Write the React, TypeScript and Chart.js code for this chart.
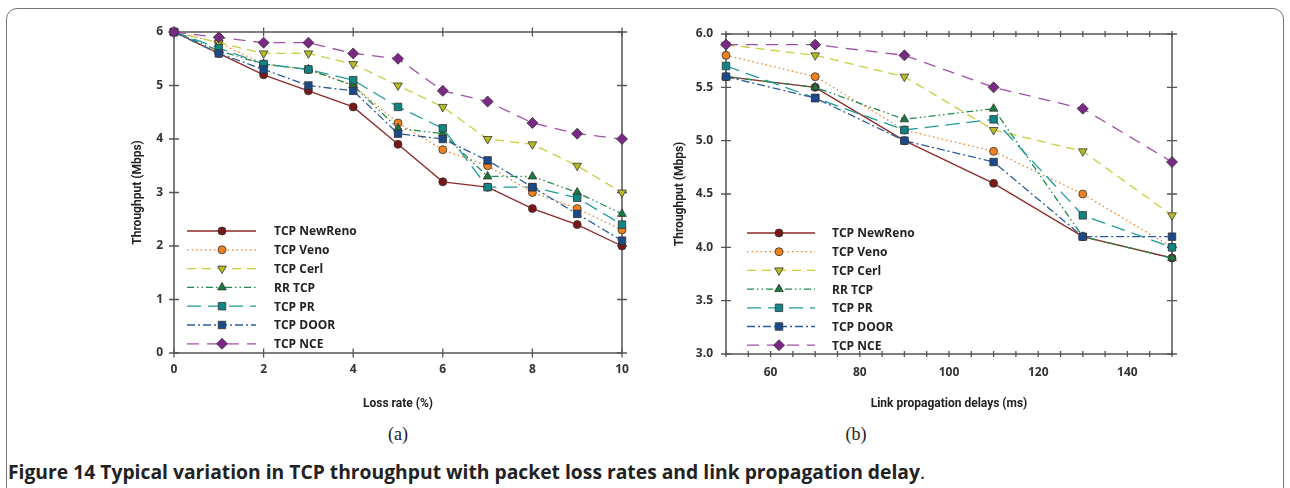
import React, { useEffect, useRef } from 'react';
import { Chart, registerables } from 'chart.js';
import { drawPoint } from 'chart.js/helpers';

Chart.register(...registerables);

// ---------- data ----------
const seriesNames = ['TCP NewReno', 'TCP Veno', 'TCP Cerl', 'RR TCP', 'TCP PR', 'TCP DOOR', 'TCP NCE'];

const lossRates = [0, 1, 2, 3, 4, 5, 6, 7, 8, 9, 10];
const newRenoLoss = [6, 5.6, 5.2, 4.9, 4.6, 3.9, 3.2, 3.1, 2.7, 2.4, 2.0];
const venoLoss = [6, 5.8, 5.4, 5.3, 5.0, 4.3, 3.8, 3.5, 3.0, 2.7, 2.3];
const cerlLoss = [6, 5.8, 5.6, 5.6, 5.4, 5.0, 4.6, 4.0, 3.9, 3.5, 3.0];
const rrLoss = [6, 5.65, 5.4, 5.3, 5.0, 4.2, 4.1, 3.3, 3.3, 3.0, 2.6];
const prLoss = [6, 5.7, 5.4, 5.3, 5.1, 4.6, 4.2, 3.1, 3.1, 2.9, 2.4];
const doorLoss = [6, 5.6, 5.3, 5.0, 4.9, 4.1, 4.0, 3.6, 3.1, 2.6, 2.1];
const nceLoss = [6, 5.9, 5.8, 5.8, 5.6, 5.5, 4.9, 4.7, 4.3, 4.1, 4.0];

const delays = [50, 70, 90, 110, 130, 150];
const newRenoDelay = [5.6, 5.5, 5.0, 4.6, 4.1, 3.9];
const venoDelay = [5.8, 5.6, 5.1, 4.9, 4.5, 4.0];
const cerlDelay = [5.9, 5.8, 5.6, 5.1, 4.9, 4.3];
const rrDelay = [5.6, 5.5, 5.2, 5.3, 4.1, 3.9];
const prDelay = [5.7, 5.4, 5.1, 5.2, 4.3, 4.0];
const doorDelay = [5.6, 5.4, 5.0, 4.8, 4.1, 4.1];
const nceDelay = [5.9, 5.9, 5.8, 5.5, 5.3, 4.8];

const lossYTicks = [0, 1, 2, 3, 4, 5, 6];
const delayYTicks = [3.0, 3.5, 4.0, 4.5, 5.0, 5.5, 6.0];

// ---------- styles ----------
const seriesStyles = [
  { line: '#8e2a2a', fill: '#7a1616', dash: [], pointStyle: 'circle', r: 4, rot: 0 },
  { line: '#f5821f', fill: '#f0801e', dash: [1.5, 3], pointStyle: 'circle', r: 4, rot: 0 },
  { line: '#c9cc3c', fill: '#b8bb22', dash: [9, 6], pointStyle: 'triangle', r: 5, rot: 180 },
  { line: '#1e8a4c', fill: '#1a7a3c', dash: [7, 3, 1.5, 3, 1.5, 3], pointStyle: 'triangle', r: 5, rot: 0 },
  { line: '#1f9a9a', fill: '#108585', dash: [14, 7], pointStyle: 'rect', r: 5.3, rot: 0 },
  { line: '#2c5c9c', fill: '#1b4a8a', dash: [8, 3, 2, 3], pointStyle: 'rect', r: 5.3, rot: 0 },
  { line: '#a04fa8', fill: '#7a2a85', dash: [12, 8], pointStyle: 'rectRot', r: 5.5, rot: 0 },
];

const TICK_FONT = { family: '"Open Sans", sans-serif', size: 12, weight: 'bold' as const };
const TITLE_FONT = { family: 'Roboto, sans-serif', size: 12, weight: 'bold' as const };

function buildDatasets(xs: number[], series: number[][]) {
  return series.map((vals, i) => {
    const s = seriesStyles[i];
    return {
      label: seriesNames[i],
      data: vals.map((v, j) => ({ x: xs[j], y: v })),
      borderColor: s.line,
      borderWidth: 1.3,
      borderDash: s.dash,
      backgroundColor: s.fill,
      pointBackgroundColor: s.fill,
      pointBorderColor: '#333',
      pointBorderWidth: 0.8,
      pointStyle: s.pointStyle,
      pointRadius: s.r,
      pointRotation: s.rot,
      tension: 0,
      clip: false,
      order: 6 - i,
    };
  });
}

const framePlugin = {
  id: 'frame',
  beforeDatasetsDraw(chart: any, _args: any, opts: any) {
    const { ctx, chartArea: a, scales } = chart;
    const x = scales.x;
    const y = scales.y;
    ctx.save();
    ctx.strokeStyle = '#555';
    ctx.lineWidth = 1.5;
    ctx.strokeRect(a.left, a.top, a.right - a.left, a.bottom - a.top);
    ctx.lineWidth = 1.3;
    const xl = opts.xTickLen;
    const yl = opts.yTickLen;
    const xVals: number[] = [];
    for (let v = x.min; v <= x.max + 1e-9; v += opts.xStep) xVals.push(v);
    const yVals: number[] = [];
    for (let v = y.min; v <= y.max + 1e-9; v += opts.yStep) yVals.push(v);
    ctx.beginPath();
    xVals.forEach((v) => {
      const px = x.getPixelForValue(v);
      ctx.moveTo(px, a.bottom - xl);
      ctx.lineTo(px, a.bottom + xl);
      ctx.moveTo(px, a.top - xl);
      ctx.lineTo(px, a.top + xl);
    });
    yVals.forEach((v) => {
      const py = y.getPixelForValue(v);
      ctx.moveTo(a.left - yl, py);
      ctx.lineTo(a.left + yl, py);
      ctx.moveTo(a.right - yl, py);
      ctx.lineTo(a.right + yl, py);
    });
    ctx.stroke();
    ctx.restore();
  },
};

const legendPlugin = {
  id: 'inLegend',
  afterDatasetsDraw(chart: any, _args: any, opts: any) {
    const { ctx, chartArea: a } = chart;
    ctx.save();
    chart.data.datasets.forEach((ds: any, i: number) => {
      const s = seriesStyles[i];
      const yy = a.top + opts.y0 + i * opts.dy;
      ctx.beginPath();
      ctx.setLineDash(s.dash);
      ctx.strokeStyle = s.line;
      ctx.lineWidth = 1.3;
      ctx.moveTo(a.left + opts.x0, yy);
      ctx.lineTo(a.left + opts.x1, yy);
      ctx.stroke();
      ctx.setLineDash([]);
      ctx.fillStyle = s.fill;
      ctx.strokeStyle = '#333';
      ctx.lineWidth = 0.8;
      drawPoint(ctx, { pointStyle: s.pointStyle, rotation: s.rot, radius: s.r, borderWidth: 0.8 } as any, a.left + opts.mx, yy);
      ctx.fillStyle = '#222';
      ctx.font = 'bold 12px "Open Sans", sans-serif';
      ctx.textAlign = 'left';
      ctx.textBaseline = 'middle';
      ctx.fillText(ds.label, a.left + opts.tx, yy + 1);
    });
    ctx.restore();
  },
};

interface PanelCfg {
  xs: number[];
  series: number[][];
  xMin: number;
  xMax: number;
  xStep: number;
  xMinorStep: number;
  xLabel: (v: number) => string;
  yMin: number;
  yMax: number;
  yStep: number;
  yLabel: (v: number) => string;
  xTitle: string;
  yTitle: string;
  leftWidth: number;
  bottomHeight: number;
  padTop: number;
  padRight: number;
  yTitlePad: number;
  yTickPad: number;
  xTickPad: number;
  xTickLen: number;
  legend: any;
}

function Panel({ cfg, left, width, height }: { cfg: PanelCfg; left: number; width: number; height: number }) {
  const ref = useRef<HTMLCanvasElement>(null);
  useEffect(() => {
    if (!ref.current) return;
    const chart = new Chart(ref.current, {
      type: 'line',
      data: { datasets: buildDatasets(cfg.xs, cfg.series) as any },
      options: {
        animation: false,
        responsive: false,
        devicePixelRatio: 1,
        layout: { padding: { top: cfg.padTop, right: cfg.padRight, left: 0, bottom: 0 } },
        plugins: {
          legend: { display: false },
          tooltip: { enabled: false },
          frame: { xStep: cfg.xMinorStep, yStep: cfg.yStep, xTickLen: cfg.xTickLen, yTickLen: 5 },
          inLegend: cfg.legend,
        } as any,
        scales: {
          x: {
            type: 'linear',
            min: cfg.xMin,
            max: cfg.xMax,
            grid: { display: false, drawTicks: false },
            border: { display: false },
            ticks: {
              stepSize: cfg.xStep,
              padding: cfg.xTickPad,
              color: '#333',
              font: TICK_FONT,
              maxRotation: 0,
              autoSkip: false,
              callback: (v: any) => cfg.xLabel(Number(v)),
            },
            title: { display: true, text: cfg.xTitle, color: '#222', font: TITLE_FONT, padding: { top: 0, bottom: 8.8 } },
            afterFit: (s: any) => {
              s.height = cfg.bottomHeight;
            },
          },
          y: {
            type: 'linear',
            min: cfg.yMin,
            max: cfg.yMax,
            grid: { display: false, drawTicks: false },
            border: { display: false },
            ticks: {
              stepSize: cfg.yStep,
              padding: cfg.yTickPad,
              color: '#333',
              font: TICK_FONT,
              callback: (v: any) => cfg.yLabel(Number(v)),
            },
            title: { display: true, text: cfg.yTitle, color: '#222', font: TITLE_FONT, padding: { top: cfg.yTitlePad, bottom: 0 } },
            afterFit: (s: any) => {
              s.width = cfg.leftWidth;
            },
          },
        },
      } as any,
      plugins: [framePlugin, legendPlugin],
    });
    return () => chart.destroy();
  }, [cfg]);
  return (
    <canvas
      ref={ref}
      width={width}
      height={height}
      style={{ position: 'absolute', left, top: 0, width, height }}
    />
  );
}

const cfgLoss: PanelCfg = {
  xs: lossRates,
  series: [newRenoLoss, venoLoss, cerlLoss, rrLoss, prLoss, doorLoss, nceLoss],
  xMin: 0,
  xMax: 10,
  xStep: 2,
  xMinorStep: 2,
  xLabel: (v) => String(v),
  yMin: lossYTicks[0],
  yMax: lossYTicks[lossYTicks.length - 1],
  yStep: 1,
  yLabel: (v) => String(v),
  xTitle: 'Loss rate (%)',
  yTitle: 'Throughput (Mbps)',
  leftWidth: 54,
  bottomHeight: 67,
  padTop: 32,
  padRight: 28,
  yTitlePad: 10.8,
  yTickPad: 11,
  xTickPad: 9,
  xTickLen: 4.5,
  legend: { x0: 13, x1: 82, mx: 48, tx: 100, y0: 199, dy: 18.8 },
};

const cfgDelay: PanelCfg = {
  xs: delays,
  series: [newRenoDelay, venoDelay, cerlDelay, rrDelay, prDelay, doorDelay, nceDelay],
  xMin: 50,
  xMax: 150,
  xStep: 10,
  xMinorStep: 5,
  xLabel: (v) => (v % 20 === 0 ? String(v) : ''),
  yMin: delayYTicks[0],
  yMax: delayYTicks[delayYTicks.length - 1],
  yStep: 0.5,
  yLabel: (v) => v.toFixed(1),
  xTitle: 'Link propagation delays (ms)',
  yTitle: 'Throughput (Mbps)',
  leftWidth: 76,
  bottomHeight: 66,
  padTop: 34,
  padRight: 38,
  yTitlePad: 22.5,
  yTickPad: 13,
  xTickPad: 11,
  xTickLen: 3,
  legend: { x0: 21, x1: 89, mx: 53, tx: 106, y0: 199, dy: 18.7 },
};

export default function App() {
  return (
    <div style={{ position: 'absolute', left: 0, top: 0, width: 1290, height: 488, background: '#fff', overflow: 'hidden' }}>
      <div
        style={{
          position: 'absolute',
          left: 6,
          top: 8,
          width: 1278,
          height: 540,
          border: '1.5px solid #777',
          borderRadius: 11,
          boxSizing: 'border-box',
        }}
      />
      <Panel cfg={cfgLoss} left={120} width={530} height={420} />
      <Panel cfg={cfgDelay} left={650} width={560} height={420} />
      <div style={{ position: 'absolute', left: 368, top: 423, width: 60, textAlign: 'center', fontFamily: '"Liberation Serif", serif', fontSize: 18, lineHeight: '22px', color: '#222' }}>(a)</div>
      <div style={{ position: 'absolute', left: 826, top: 423, width: 60, textAlign: 'center', fontFamily: '"Liberation Serif", serif', fontSize: 18, lineHeight: '22px', color: '#222' }}>(b)</div>
      <div style={{ position: 'absolute', left: 8, top: 460, whiteSpace: 'nowrap', fontFamily: '"Open Sans", sans-serif', fontSize: 19.3, lineHeight: '24px', color: '#222' }}>
        <span style={{ fontWeight: 700 }}>Figure 14 Typical variation in TCP throughput with packet loss rates and link propagation delay</span>
        <span>.</span>
      </div>
    </div>
  );
}
